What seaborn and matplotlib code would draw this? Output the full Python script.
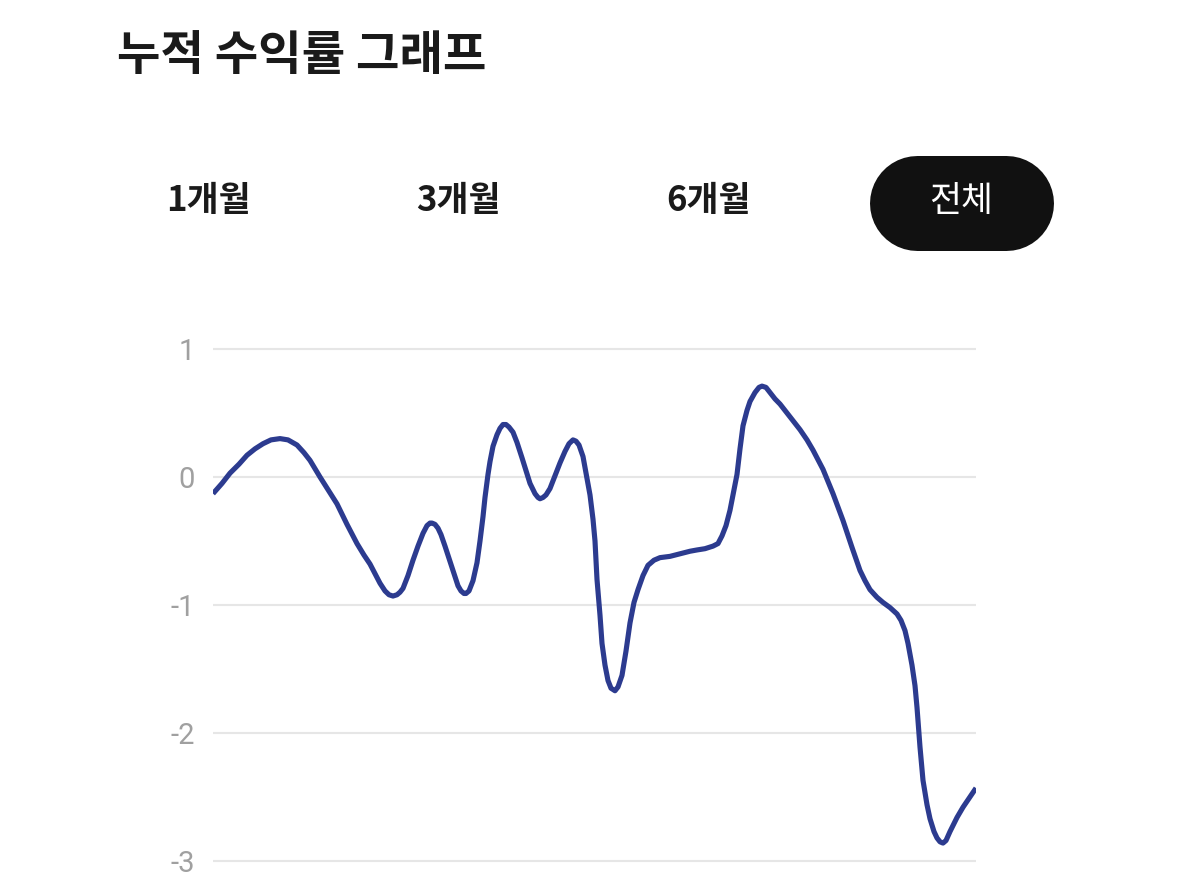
import matplotlib
matplotlib.use('Agg')
import matplotlib.pyplot as plt
import seaborn as sns
import pandas as pd
from matplotlib.lines import Line2D
from matplotlib.transforms import IdentityTransform

# cumulative return series (x = day index, y = return %)
days = [0, 9, 17, 26, 34, 42, 50, 58, 67, 75, 84, 91, 97, 107, 124, 134,
        144, 151, 157, 163, 167, 172, 176, 180, 184, 187, 190, 195, 200, 205,
        210, 214, 217, 219, 222, 225, 228, 232, 237, 242, 245, 248, 251, 253,
        256, 260, 264, 267, 270, 272, 275, 277, 280, 284, 287, 290, 293, 296,
        300, 304, 309, 313, 317, 322, 325, 327, 330, 333, 337, 342, 347, 352,
        356, 360, 363, 366, 370, 374, 377, 380, 382, 384, 387, 389, 392, 395,
        398, 402, 405, 409, 413, 417, 421, 425, 430, 435, 441, 447, 457, 467,
        477, 484, 492, 500, 505, 509, 513, 517, 520, 524, 527, 530, 534, 537,
        542, 546, 549, 553, 557, 562, 567, 577, 587, 594, 600, 610, 620, 630,
        639, 647, 652, 657, 664, 670, 677, 684, 688, 692, 695, 699, 702, 704,
        707, 710, 714, 717, 721, 724, 727, 730, 733, 737, 744, 750, 757, 763]
returns = [-0.13, -0.05, 0.03, 0.10, 0.17, 0.22, 0.26, 0.29, 0.30, 0.29,
           0.25, 0.19, 0.13, 0.00, -0.21, -0.37, -0.52, -0.61, -0.68, -0.77,
           -0.83, -0.89, -0.92, -0.93, -0.92, -0.90, -0.87, -0.77, -0.65,
           -0.54, -0.44, -0.38, -0.36, -0.36, -0.37, -0.40, -0.45, -0.54,
           -0.66, -0.78, -0.85, -0.89, -0.91, -0.91, -0.89, -0.81, -0.67,
           -0.50, -0.31, -0.16, 0.02, 0.12, 0.24, 0.33, 0.38, 0.41, 0.41,
           0.39, 0.35, 0.27, 0.15, 0.05, -0.05, -0.13, -0.16, -0.17, -0.16,
           -0.14, -0.09, 0.01, 0.11, 0.20, 0.26, 0.29, 0.28, 0.25, 0.16,
           -0.01, -0.14, -0.33, -0.50, -0.80, -1.08, -1.30, -1.47, -1.59,
           -1.65, -1.67, -1.64, -1.55, -1.36, -1.14, -0.98, -0.88, -0.77,
           -0.69, -0.65, -0.63, -0.62, -0.60, -0.58, -0.57, -0.56, -0.54,
           -0.52, -0.46, -0.38, -0.26, -0.14, 0.02, 0.22, 0.40, 0.52, 0.59,
           0.66, 0.70, 0.71, 0.70, 0.66, 0.61, 0.57, 0.47, 0.37, 0.29, 0.21,
           0.06, -0.13, -0.34, -0.55, -0.73, -0.81, -0.88, -0.94, -0.98,
           -1.02, -1.07, -1.12, -1.20, -1.30, -1.47, -1.63, -1.80, -2.11,
           -2.37, -2.56, -2.67, -2.77, -2.82, -2.85, -2.86, -2.84, -2.77,
           -2.66, -2.58, -2.50, -2.43]
y_ticks = [1, 0, -1, -2, -3]

title = '누적 수익률 그래프'
tabs = ['1개월', '3개월', '6개월', '전체']
selected_tab = '전체'

LINE = '#2c3b8f'

sns.set_style('white')
plt.rcParams['font.family'] = ['Noto Sans CJK KR', 'DejaVu Sans']
plt.rcParams['axes.unicode_minus'] = False

df = pd.DataFrame({'day': days, 'return': returns})

W, H = 1179, 893
fig = plt.figure(figsize=(W / 100, H / 100), dpi=100)
fig.patch.set_facecolor('white')

ax = fig.add_axes([213 / W, (H - 880) / H, 763 / W, 550 / H])
sns.lineplot(data=df, x='day', y='return', ax=ax, color=LINE,
             linewidth=3.7, sort=False, solid_capstyle='butt',
             solid_joinstyle='round')
ax.set_xlim(min(days), max(days))
ax.set_ylim((477 - 880) / 128, (477 - 330) / 128)
ax.set_yticks(y_ticks)
ax.set_yticklabels([str(t) for t in y_ticks], family='Roboto',
                   color='#a0a0a0', fontsize=21)
ax.tick_params(axis='y', length=0, pad=13)
ax.set_xticks([])
ax.grid(axis='y', color='#e6e6e6', linewidth=1.5)
ax.set_axisbelow(True)
for s in ax.spines.values():
    s.set_visible(False)
ax.set_xlabel('')
ax.set_ylabel('')

# header
fig.text(117 / W, 1 - 56 / H, title, fontsize=34, fontweight='bold',
         color='#1a1a1a', ha='left', va='center')

# tab bar, selected tab sits on a black pill
tab_x = [208, 458, 709, 961]
pill = Line2D([916.5, 1005.5], [H - 202.5, H - 202.5],
              transform=IdentityTransform(), color='#111111',
              linewidth=95 * 0.72, solid_capstyle='round')
fig.add_artist(pill)
for label, x in zip(tabs, tab_x):
    on = label == selected_tab
    fig.text(x / W, 1 - 201 / H, label, fontsize=25,
             fontweight='medium' if on else 'bold',
             color='white' if on else '#1a1a1a', ha='center', va='center')

fig.savefig('out.png', dpi=100)
